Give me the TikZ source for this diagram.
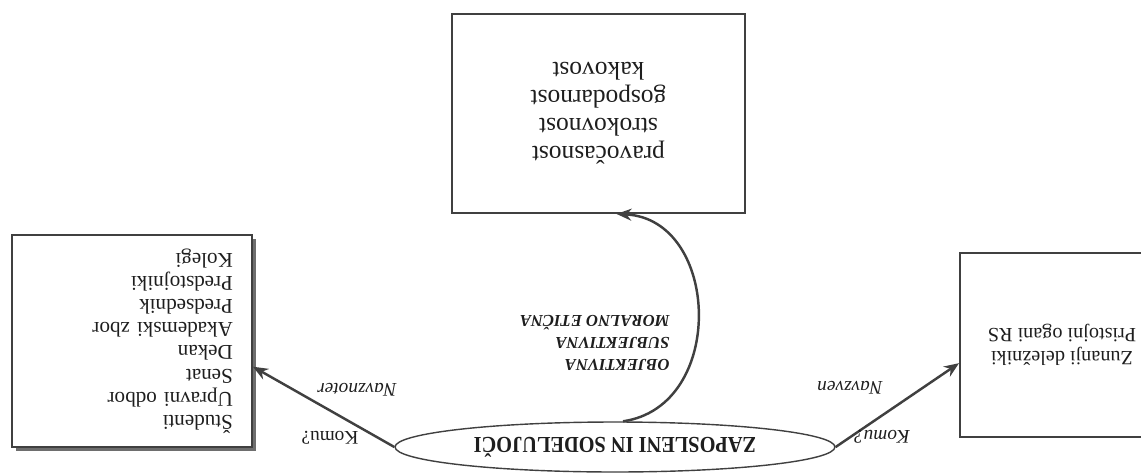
\documentclass[tikz,border=0pt]{standalone}
\usepackage{fontspec}
\setmainfont{Liberation Serif}
\newfontfamily\titlefont[FakeStretch=0.89]{Liberation Serif}
\usepackage{tikz}
\usetikzlibrary{arrows.meta, shapes.geometric, calc}
\definecolor{LineGray}{HTML}{404040}
\definecolor{ShadowGray}{HTML}{6E6E6E}
\definecolor{TextInk}{HTML}{1E1E1E}

\begin{document}
\begin{tikzpicture}[
  x=0.02cm, y=0.02cm,
  font=\fontsize{12}{13.2}\selectfont, text=TextInk,
  >={Stealth[length=3mm, width=2.4mm]},
  box/.style={rectangle, draw=LineGray, line width=1.1pt, fill=white, inner sep=0pt},
  hub/.style={ellipse, draw=LineGray, line width=0.8pt, fill=white, inner sep=0pt,
              minimum width=8.8cm, minimum height=1cm},
  arr/.style={->, draw=LineGray, line width=1.4pt},
  lbl/.style={font=\fontsize{11}{13}\selectfont\itshape, inner sep=1pt},
]
\begin{scope}[rotate=180, transform shape]
\useasboundingbox (0,0) rectangle (1141,473);
\clip (0,0) rectangle (1141,473);
\node[hub] (zap) at (526,447) {\titlefont\fontsize{13}{15}\selectfont\bfseries ZAPOSLENI IN SODELUJOČI};
\node[box, minimum width=5.86cm, minimum height=3.98cm, align=center,
      font=\fontsize{14.5}{16}\selectfont] (quality) at (542.5,113.5)
  {pravočasnost\\strokovnost\\gospodarnost\\kakovost};
% shadow of the staff box
\fill[ShadowGray] (885,239) rectangle (1125,451);
\node[box, minimum width=4.8cm, minimum height=4.24cm, text width=4.04cm,
      inner xsep=0.38cm, align=left] (staff) at (1009,341)
  {Študenti\\Upravni odbor\\Senat\\Dekan\\Akademski zbor\\Predsednik\\Predstojniki\\Kolegi};
\node[box, minimum width=4.08cm, minimum height=3.68cm, align=center,
      font=\fontsize{11.5}{13}\selectfont] (ext) at (79,345)
  {Zunanji deležniki\\Pristojni ogani RS};
\node[anchor=west, align=left, inner sep=0pt,
      font=\fontsize{9.5}{12.5}\selectfont\bfseries\itshape] (aspects) at (471,343)
  {OBJEKTIVNA\\SUBJEKTIVNA\\MORALNO ETIČNA};
\draw[arr] ($(zap.south)+(-8,0)$) .. controls +(-104,-15) and +(-104,5) .. ($(quality.north)+(-18,0)$);
\draw[arr] (zap.east) -- (staff.168);
\draw[arr] (zap.west) -- (ext.10);
\node[lbl, font=\fontsize{11}{13}\selectfont\upshape] (askR) at (811,438) {Komu?};
\node[lbl] (inward) at (784,390) {Navznoter};
\node[lbl] (askL) at (259,437) {Komu?};
\node[lbl] (outward) at (291,388) {Navzven};
\end{scope}
\end{tikzpicture}
\end{document}
